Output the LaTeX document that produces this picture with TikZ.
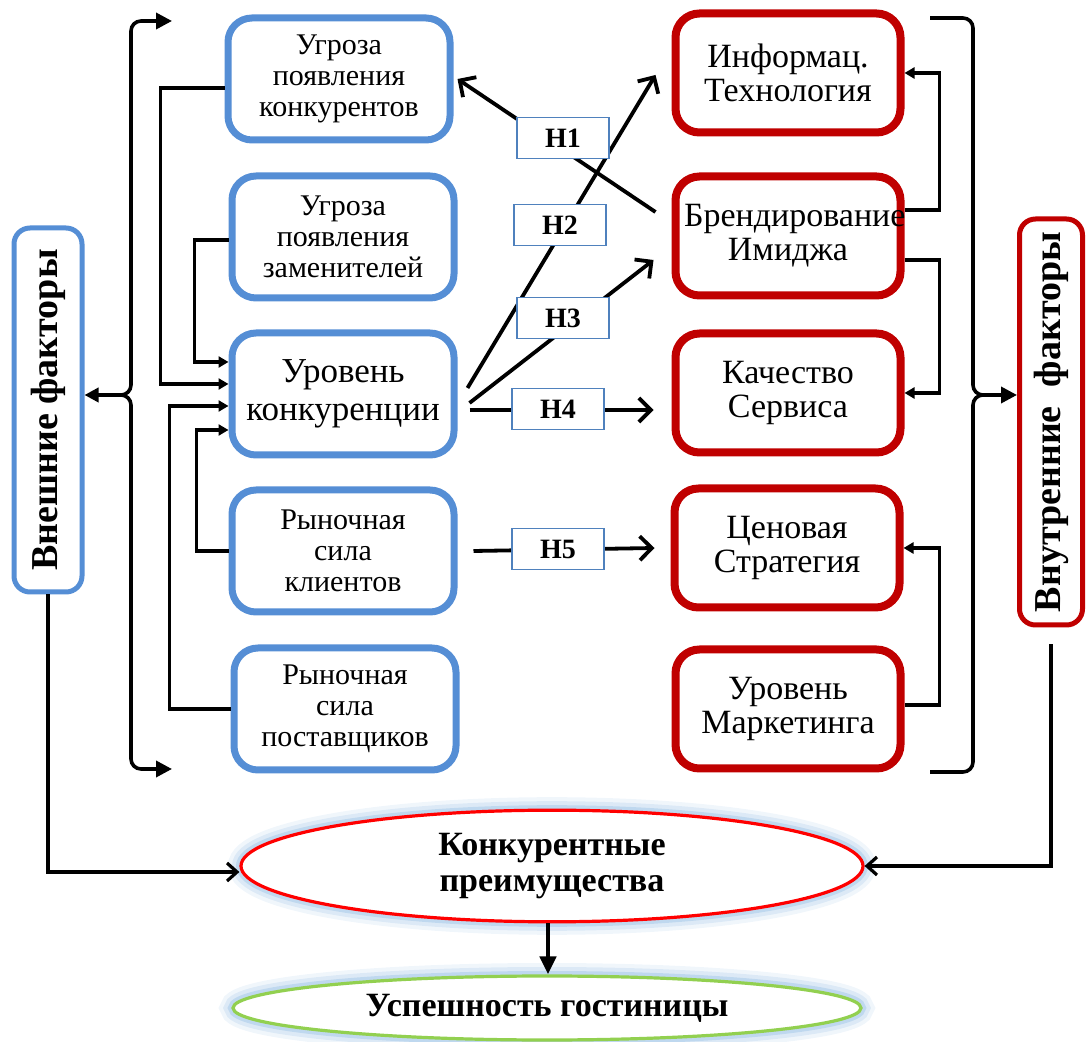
\documentclass[tikz,border=0pt]{standalone}
\usepackage{fontspec}
\setmainfont{Liberation Serif}
\usetikzlibrary{arrows.meta,shapes.geometric}
\definecolor{boxblue}{HTML}{558ED5}
\definecolor{boxred}{HTML}{C00000}
\definecolor{hblue}{HTML}{4F81BD}
\definecolor{glowblue}{HTML}{9DC3E6}
\definecolor{okgreen}{HTML}{92D050}
\begin{document}
\begin{tikzpicture}[x=0.5pt,y=-0.5pt,
    extbox/.style={draw=boxblue,line width=3.5pt,rounded corners=12pt,fill=white,
      minimum width=111pt,minimum height=61pt,text width=103pt,align=center,
      font=\fontsize{15}{15.5}\selectfont},
    intbox/.style={draw=boxred,line width=4pt,rounded corners=12pt,fill=white,
      minimum width=112.5pt,minimum height=59.5pt,text width=104pt,align=center,
      font=\fontsize{17}{17}\selectfont},
    sidebox/.style={line width=2.5pt,rounded corners=8pt,rotate=90,fill=white,
      font=\bfseries\fontsize{19}{20}\selectfont},
    hyp/.style={draw=hblue,line width=0.6pt,fill=white,minimum width=46pt,
      minimum height=20.5pt,font=\bfseries\fontsize{14}{15}\selectfont},
    goal/.style={ellipse,line width=1.6pt,fill=white,align=center,
      font=\bfseries\fontsize{17}{18}\selectfont,
      preaction={draw=glowblue,opacity=0.15,line width=13pt},
      preaction={draw=glowblue,opacity=0.25,line width=9pt},
      preaction={draw=glowblue,opacity=0.45,line width=5pt}},
    conn/.style={line width=1.8pt,-{Triangle[length=5pt,width=5.5pt]}},
    brace/.style={line width=1.8pt,rounded corners=5pt},
    harr/.style={line width=1.9pt,-{Straight Barb[length=6pt,width=12pt]}},
    oarr/.style={line width=1.6pt,-{Straight Barb[length=5pt,width=9pt]}}]
  \useasboundingbox (0,0) rectangle (1088,1042);

  % external factors
  \node[sidebox,draw=boxblue,minimum width=182pt,minimum height=34pt] (vnesh) at (48,410) {Внешние факторы};
  \node[extbox] (ugr) at (339,79) {Угроза\\появления\\конкурентов};
  \node[extbox] (zam) at (343,237) {Угроза\\появления\\заменителей};
  \node[extbox,font=\fontsize{17.5}{19}\selectfont] (ur) at (343,394) {Уровень\\конкуренции};
  \node[extbox] (kli) at (343,551) {Рыночная\\сила\\клиентов};
  \node[extbox] (pos) at (345,709) {Рыночная\\сила\\поставщиков};

  % internal factors
  \node[intbox] (it) at (788,73) {Информац.\\Технология};
  \node[intbox] (brend) at (788,236) {Брендирование\\Имиджа};
  \node[intbox] (kach) at (788,393) {Качество\\Сервиса};
  \node[intbox] (cen) at (787,548) {Ценовая\\Стратегия};
  \node[intbox] (mark) at (788,709) {Уровень\\Маркетинга};
  \node[sidebox,draw=boxred,minimum width=203pt,minimum height=31.5pt] (vnutr) at (1051,422) {Внутренние\ \ факторы};

  % result
  \node[goal,draw=red,minimum width=311pt,minimum height=45pt] (kp) at (552,866) {Конкурентные\\преимущества};
  \node[goal,draw=okgreen,minimum width=314pt,minimum height=32pt] (usp) at (547,1008) {Успешность гостиницы};

  % brackets
  \coordinate (lbtop) at (172,21);
  \coordinate (lbbot) at (172,769);
  \coordinate (rbtop) at (930,18);
  \coordinate (rbbot) at (930,772);
  \draw[brace,{Triangle[length=8pt,width=8pt]}-{Triangle[length=7pt,width=7pt]}] (lbtop) -- (131,21) -- (131,395) -- ([yshift=7.5pt]vnesh.south);
  \draw[brace,{Triangle[length=8pt,width=8pt]}-] (lbbot) -- (131,769) -- (131,395) -- (112,395);
  \draw[brace,-{Triangle[length=8pt,width=8pt]}] (rbtop) -- (973,18) -- (973,395) -- ([yshift=13.5pt]vnutr.north);
  \draw[brace] (rbbot) -- (973,772) -- (973,395) -- (990,395);

  % links to the level of competition
  \draw[conn] ([yshift=-4.5pt]ugr.west) -- ++(-64,0) |- ([yshift=5pt]ur.west);
  \draw[conn] ([yshift=-1.5pt]zam.west) -- ++(-34,0) |- ([yshift=16pt]ur.west);
  \draw[conn] (kli.west) -- ++(-32,0) |- ([yshift=-18pt]ur.west);
  \draw[conn] (pos.west) -- ++(-61,0) |- ([yshift=-6pt]ur.west);

  % links between internal factors
  \draw[conn] ([yshift=13pt]brend.east) -- ++(35,0) |- (it.east);
  \draw[conn] ([yshift=-12pt]brend.east) -- ++(35,0) |- (kach.east);
  \draw[conn] ([yshift=2pt]mark.east) -- ++(35,0) |- (cen.east);

  % hypotheses
  \draw[harr] ([xshift=-8pt,yshift=12pt]brend.west) -- ([xshift=2pt]ugr.east);
  \draw[harr] ([xshift=5pt,yshift=3pt]ur.east) -- ([xshift=-8pt,yshift=-1pt]it.west);
  \draw[harr] ([xshift=6pt,yshift=-4.5pt]ur.east) -- ([xshift=-9pt,yshift=-12pt]brend.west);
  \draw[harr] ([xshift=6pt,yshift=-8pt]ur.east) -- ([xshift=-9pt,yshift=-8.5pt]kach.west);
  \draw[harr] ([xshift=8pt]kli.east) -- ([xshift=-8pt]cen.west);
  \node[hyp] (h1) at (563,138) {H1};
  \node[hyp] (h2) at (560,225) {H2};
  \node[hyp] (h3) at (563,318) {H3};
  \node[hyp] (h4) at (558,409) {H4};
  \node[hyp] (h5) at (558,549) {H5};

  % to the result
  \draw[oarr] (vnesh.west) |- ([yshift=-3pt]kp.west);
  \draw[oarr] ([yshift=-8.5pt]vnutr.west) |- (kp.east);
  \draw[line width=2.2pt,-{Triangle[length=9pt,width=8pt]}] ([xshift=-2pt]kp.south) -- ([xshift=-2pt]kp.south |- usp.north);
\end{tikzpicture}
\end{document}
